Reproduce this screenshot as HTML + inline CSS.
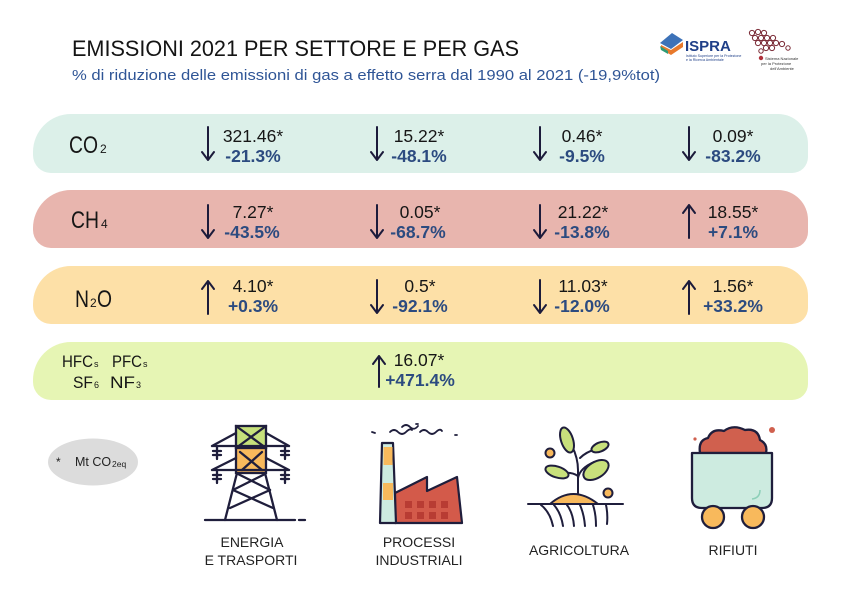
<!DOCTYPE html>
<html><head><meta charset="utf-8"><style>
html,body{margin:0;padding:0;background:#fff;}
svg{display:block;font-family:"Liberation Sans",sans-serif;}
</style></head><body>
<svg width="842" height="595" viewBox="0 0 842 595" xmlns="http://www.w3.org/2000/svg">
<rect width="842" height="595" fill="#fff"/>
<!-- Title -->
<text x="72" y="56" font-size="22" fill="#141414" textLength="447" lengthAdjust="spacingAndGlyphs">EMISSIONI 2021 PER SETTORE E PER GAS</text>
<text x="72" y="80" font-size="14.5" fill="#2f5596" textLength="588" lengthAdjust="spacingAndGlyphs">% di riduzione delle emissioni di gas a effetto serra dal 1990 al 2021 (-19,9%tot)</text>

<!-- ISPRA logo -->
<g>
<polygon points="660,43 672,33 683,40 671,49" fill="#3d72b8"/>
<polygon points="661,45 671,50 683,42 683,47 671,55 661,49" fill="#e8792b"/>
<polygon points="660,46 661,50 668,54 668,51" fill="#2e9b76"/>
<text x="685" y="51" font-size="15" font-weight="bold" fill="#1f3f88">ISPRA</text>
<text x="686" y="57" font-size="3.6" fill="#1f3f88">Istituto Superiore per la Protezione</text>
<text x="686" y="61" font-size="3.6" fill="#1f3f88">e la Ricerca Ambientale</text>
</g>
<!-- SNPA logo -->
<g fill="none" stroke="#7a2a35" stroke-width="1">
<circle cx="752" cy="33" r="2.6"/><circle cx="758" cy="32" r="2.6"/><circle cx="764" cy="33" r="2.6"/>
<circle cx="755" cy="38" r="2.6"/><circle cx="761" cy="38" r="2.6"/><circle cx="767" cy="38" r="2.6"/><circle cx="773" cy="38" r="2.6"/>
<circle cx="758" cy="43" r="2.6"/><circle cx="764" cy="43" r="2.6"/><circle cx="770" cy="43" r="2.6"/><circle cx="776" cy="43" r="2.6"/><circle cx="782" cy="44" r="2.6"/>
<circle cx="766" cy="48" r="2.6"/><circle cx="772" cy="48" r="2.6"/><circle cx="788" cy="48" r="2.2"/>
<circle cx="761" cy="51" r="2.2"/>
</g>
<circle cx="761" cy="58" r="2.2" fill="#b0303a"/>
<text x="765" y="60" font-size="4" fill="#333">Sistema Nazionale</text>
<text x="761" y="65" font-size="4" fill="#333">per la Protezione</text>
<text x="770" y="70" font-size="4" fill="#333">dell'Ambiente</text>

<!-- Pills -->
<path d="M71,114 H778 A30,30 0 0 1 808,144 V157 A16,16 0 0 1 792,173 H51 A18,18 0 0 1 33,155 V152 A38,38 0 0 1 71,114 Z" fill="#dcf0e9"/>
<path d="M71,190 H778 A30,30 0 0 1 808,220 V232 A16,16 0 0 1 792,248 H51 A18,18 0 0 1 33,230 V228 A38,38 0 0 1 71,190 Z" fill="#e8b5ae"/>
<path d="M71,266 H778 A30,30 0 0 1 808,296 V308 A16,16 0 0 1 792,324 H51 A18,18 0 0 1 33,306 V304 A38,38 0 0 1 71,266 Z" fill="#fde0a7"/>
<path d="M71,342 H778 A30,30 0 0 1 808,372 V384 A16,16 0 0 1 792,400 H51 A18,18 0 0 1 33,382 V380 A38,38 0 0 1 71,342 Z" fill="#e6f5b4"/>

<!-- Gas labels -->
<g fill="#161616">
<text x="69" y="153" font-size="24.5" textLength="29" lengthAdjust="spacingAndGlyphs">CO</text><text x="100" y="153" font-size="12">2</text>
<text x="71" y="228" font-size="24.5" textLength="28" lengthAdjust="spacingAndGlyphs">CH</text><text x="101" y="228" font-size="12">4</text>
<text x="75" y="307" font-size="24.5" textLength="14" lengthAdjust="spacingAndGlyphs">N</text><text x="90" y="307" font-size="12">2</text><text x="97" y="307" font-size="24.5" textLength="15" lengthAdjust="spacingAndGlyphs">O</text>
<text x="62" y="367" font-size="16.5" textLength="31" lengthAdjust="spacingAndGlyphs">HFC</text><text x="94" y="367" font-size="9">s</text>
<text x="112" y="367" font-size="16.5" textLength="30" lengthAdjust="spacingAndGlyphs">PFC</text><text x="143" y="367" font-size="9">s</text>
<text x="73" y="388" font-size="16.5" textLength="20" lengthAdjust="spacingAndGlyphs">SF</text><text x="94" y="388" font-size="9">6</text>
<text x="110" y="388" font-size="16.5" textLength="25" lengthAdjust="spacingAndGlyphs">NF</text><text x="136" y="388" font-size="9">3</text>
</g>

<!-- Arrows -->
<g stroke="#1c1b3b" stroke-width="2" fill="none" stroke-linecap="round" stroke-linejoin="round">
<path d="M208,127 V160 M202,152 L208,160 L214,152"/>
<path d="M377,127 V160 M371,152 L377,160 L383,152"/>
<path d="M540,127 V160 M534,152 L540,160 L546,152"/>
<path d="M689,127 V160 M683,152 L689,160 L695,152"/>
<path d="M208,205 V238 M202,230 L208,238 L214,230"/>
<path d="M377,205 V238 M371,230 L377,238 L383,230"/>
<path d="M540,205 V238 M534,230 L540,238 L546,230"/>
<path d="M689,238 V205 M683,213 L689,205 L695,213"/>
<path d="M208,314 V281 M202,289 L208,281 L214,289"/>
<path d="M377,280 V313 M371,305 L377,313 L383,305"/>
<path d="M540,280 V313 M534,305 L540,313 L546,305"/>
<path d="M689,314 V281 M683,289 L689,281 L695,289"/>
<path d="M379,387 V356 M373,364 L379,356 L385,364"/>
</g>

<!-- Values -->
<g font-size="17.5" fill="#161616" text-anchor="middle">
<text x="253" y="142">321.46*</text><text x="419" y="142">15.22*</text><text x="582" y="142">0.46*</text><text x="733" y="142">0.09*</text>
<text x="253" y="218">7.27*</text><text x="420" y="218">0.05*</text><text x="583" y="218">21.22*</text><text x="733" y="218">18.55*</text>
<text x="253" y="292">4.10*</text><text x="420" y="292">0.5*</text><text x="583" y="292">11.03*</text><text x="733" y="292">1.56*</text>
<text x="419" y="366">16.07*</text>
</g>
<g font-size="17.5" font-weight="bold" fill="#2c4b80" text-anchor="middle">
<text x="253" y="162">-21.3%</text><text x="419" y="162">-48.1%</text><text x="582" y="162">-9.5%</text><text x="733" y="162">-83.2%</text>
<text x="252" y="238">-43.5%</text><text x="418" y="238">-68.7%</text><text x="582" y="238">-13.8%</text><text x="733" y="238">+7.1%</text>
<text x="253" y="312">+0.3%</text><text x="420" y="312">-92.1%</text><text x="582" y="312">-12.0%</text><text x="733" y="312">+33.2%</text>
<text x="420" y="386">+471.4%</text>
</g>

<!-- Legend ellipse -->
<ellipse cx="93" cy="462" rx="45" ry="23.5" fill="#dcdcdc"/>
<text x="56" y="466" font-size="12" fill="#222">*</text>
<text x="75" y="466" font-size="12.5" fill="#222">Mt CO</text><text x="112" y="467" font-size="8.5" fill="#222">2eq</text>

<!-- Tower icon -->
<g stroke="#1f1e3c" stroke-width="2.3" fill="none" stroke-linecap="round">
<rect x="236" y="426" width="30" height="22" fill="#c6e07b"/>
<rect x="236" y="448" width="30" height="25" fill="#f8b95c"/>
<path d="M236,426 L266,448 M266,426 L236,448"/>
<path d="M240,452 L262,470 M262,452 L242,470"/>
<path d="M212,446 H289 M236,433 L212,446 M266,433 L289,446"/>
<path d="M212,470 H289 M236,458 L212,470 M266,458 L289,470"/>
<path d="M217,446 V459 M213,451 H221 M213,455 H221"/>
<path d="M285,446 V459 M281,451 H289 M281,455 H289"/>
<path d="M217,470 V483 M213,475 H221 M213,479 H221"/>
<path d="M285,470 V483 M281,475 H289 M281,479 H289"/>
<path d="M237,473 L225,520 M265,473 L277,520"/>
<path d="M238,474 L270,490 M265,474 L233,490"/>
<path d="M233,490 L273,508 M270,490 L230,508"/>
<path d="M205,520 H295 M299,520 H305"/>
</g>

<!-- Factory icon -->
<g stroke="#1f1e3c" stroke-width="2.2" stroke-linejoin="round" stroke-linecap="round">
<path d="M395,493 L427,477 L427,491 L457,477 L462,523 L395,523 Z" fill="#d35a4a"/>
<path d="M382,443 H393 L396,523 H380 Z" fill="#cdebe0"/>
</g>
<g stroke="none">
<rect x="383.5" y="447" width="9" height="18" fill="#f8b95c"/>
<rect x="383" y="483" width="10" height="17" fill="#f8b95c"/>
<rect x="405" y="501" width="7" height="7" fill="#b83c33"/><rect x="417" y="501" width="7" height="7" fill="#b83c33"/><rect x="429" y="501" width="7" height="7" fill="#b83c33"/><rect x="441" y="501" width="7" height="7" fill="#b83c33"/>
<rect x="405" y="512" width="7" height="7" fill="#b83c33"/><rect x="417" y="512" width="7" height="7" fill="#b83c33"/><rect x="429" y="512" width="7" height="7" fill="#b83c33"/><rect x="441" y="512" width="7" height="7" fill="#b83c33"/>
</g>
<g stroke="#1f1e3c" stroke-width="1.8" fill="none" stroke-linecap="round">
<path d="M390,432 Q394,428 398,432 T406,432 T412,430"/>
<path d="M402,427 Q406,423 410,427 T418,426"/>
<path d="M420,432 Q424,428 428,432 T436,432 T442,431"/>
<path d="M372,432 L375,433 M455,435 L457,435 M416,424 L418,424"/>
</g>

<!-- Agriculture icon -->
<g stroke="#1f1e3c" stroke-width="2" stroke-linecap="round" stroke-linejoin="round">
<path d="M550,504 Q573,484 598,504 Z" fill="#f8b95c"/>
<path d="M528,504 H623" fill="none"/>
<path d="M541,505 Q550,512 553,526 M554,505 Q561,513 563,526 M567,505 Q573,513 574,526 M580,505 Q584,514 585,526 M593,505 Q596,514 596,526 M606,505 Q608,514 607,524" fill="none"/>
<path d="M578,493 V470 Q578,458 572,446 M578,478 Q580,468 594,462 M578,476 Q572,472 564,473 M580,458 Q586,452 596,449" fill="none"/>
<ellipse cx="567" cy="440" rx="6" ry="13" transform="rotate(-18 567 440)" fill="#c8e07c"/>
<ellipse cx="600" cy="447" rx="9" ry="4.5" transform="rotate(-22 600 447)" fill="#c8e07c"/>
<ellipse cx="557" cy="472" rx="12" ry="5.5" transform="rotate(18 557 472)" fill="#c8e07c"/>
<ellipse cx="596" cy="470" rx="14" ry="8" transform="rotate(-32 596 470)" fill="#c8e07c"/>
<circle cx="550" cy="453" r="4.5" fill="#f8b95c"/>
<circle cx="608" cy="493" r="4.5" fill="#f8b95c"/>
</g>

<!-- Cart icon -->
<g stroke="#1f1e3c" stroke-width="2.3" stroke-linejoin="round">
<path d="M700,453 Q698,440 708,438 Q712,428 724,431 Q733,424 745,430 Q758,428 760,440 Q768,444 766,453 Z" fill="#d0604e"/>
<path d="M692,453 H772 V498 Q772,508 762,508 H702 Q692,508 692,498 Z" fill="#cdebe0"/>
<path d="M760,490 Q760,498 752,499" fill="none" stroke="#8ccfb8" stroke-width="1.5"/>
<circle cx="713" cy="517" r="11" fill="#f8b95c"/>
<circle cx="753" cy="517" r="11" fill="#f8b95c"/>
</g>
<circle cx="695" cy="439" r="1.6" fill="#d0604e"/>
<circle cx="772" cy="430" r="3" fill="#d0604e"/>

<!-- Sector labels -->
<g font-size="14" fill="#222" text-anchor="middle">
<text x="252" y="547">ENERGIA</text>
<text x="251" y="565">E TRASPORTI</text>
<text x="419" y="547">PROCESSI</text>
<text x="419" y="565">INDUSTRIALI</text>
<text x="579" y="555">AGRICOLTURA</text>
<text x="733" y="555">RIFIUTI</text>
</g>
</svg>
</body></html>
